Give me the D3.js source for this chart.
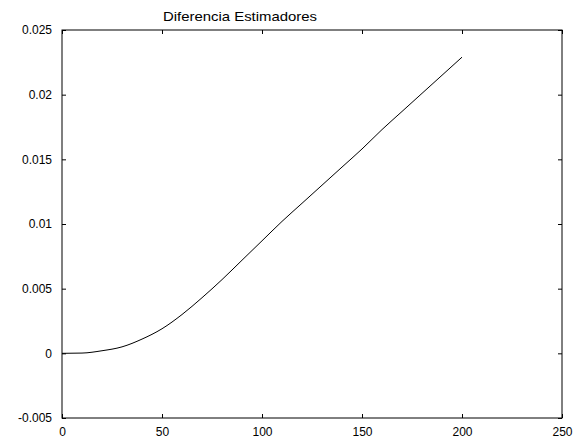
<!DOCTYPE html>
<html>
<head>
<meta charset="utf-8">
<script src="https://cdn.jsdelivr.net/npm/d3@7"></script>
<style>
  body { margin: 0; background: #fff; }
  svg { display: block; font-family: "Liberation Sans", Arial, sans-serif; }
</style>
</head>
<body>
<svg id="chart" width="577" height="439"></svg>
<script>
// datos
const xValues = [0, 10, 20, 30, 40, 50, 60, 70, 80, 90, 100, 110, 120, 130, 140, 150, 160, 170, 180, 190, 200];
const diffValues = [0, 0.00002, 0.0002, 0.0005, 0.0011, 0.0019, 0.0030, 0.0043, 0.0057, 0.0072, 0.0087,
                    0.0102, 0.0116, 0.0130, 0.0144, 0.0158, 0.0173, 0.0187, 0.0201, 0.0215, 0.0229];
const xTicks = [0, 50, 100, 150, 200, 250];
const yTicks = [-0.005, 0, 0.005, 0.01, 0.015, 0.02, 0.025];
const yTickLabels = ["-0.005", "0", "0.005", "0.01", "0.015", "0.02", "0.025"];
const title = "Diferencia Estimadores";

const svg = d3.select("#chart");
const margin = {top: 30, right: 15, bottom: 21, left: 62};
const width = 577 - margin.left - margin.right;
const height = 439 - margin.top - margin.bottom;

const xScale = d3.scaleLinear().domain([0, 250]).range([0, width]);
const yScale = d3.scaleLinear().domain([-0.005, 0.025]).range([height, 0]);

const g = svg.append("g").attr("transform", `translate(${margin.left},${margin.top})`);

// caja
g.append("rect")
    .attr("width", width)
    .attr("height", height)
    .attr("fill", "none")
    .attr("stroke", "#000")
    .attr("stroke-width", 1);

// ticks hacia dentro (estilo matlab)
const tickLen = 4;
const xAxisBottom = d3.axisBottom(xScale).tickValues(xTicks).tickSizeInner(-tickLen).tickSizeOuter(0).tickPadding(9);
const xAxisTop = d3.axisTop(xScale).tickValues(xTicks).tickSizeInner(-tickLen).tickSizeOuter(0).tickFormat("");
const yAxisLeft = d3.axisLeft(yScale).tickValues(yTicks).tickSizeInner(-tickLen).tickSizeOuter(0).tickPadding(10)
    .tickFormat((d, i) => yTickLabels[i]);
const yAxisRight = d3.axisRight(yScale).tickValues(yTicks).tickSizeInner(-tickLen).tickSizeOuter(0).tickFormat("");

[[xAxisBottom, `translate(0,${height})`], [xAxisTop, "translate(0,0)"],
 [yAxisLeft, "translate(0,0)"], [yAxisRight, `translate(${width},0)`]].forEach(([ax, tr]) => {
    const a = g.append("g").attr("transform", tr).call(ax);
    a.select(".domain").remove();
    a.selectAll("line").attr("stroke", "#000");
    a.selectAll("text").attr("fill", "#000").style("font-size", "12px");
});

// curva
const line = d3.line()
    .x((d, i) => xScale(xValues[i]))
    .y(d => yScale(d))
    .curve(d3.curveMonotoneX);

g.append("path")
    .datum(diffValues)
    .attr("d", line)
    .attr("fill", "none")
    .attr("stroke", "#000")
    .attr("stroke-width", 1);

// titulo
svg.append("text")
    .attr("x", 163)
    .attr("y", 21)
    .attr("textLength", 154)
    .attr("lengthAdjust", "spacingAndGlyphs")
    .style("font-size", "13px")
    .attr("fill", "#000")
    .text(title);
</script>
</body>
</html>
